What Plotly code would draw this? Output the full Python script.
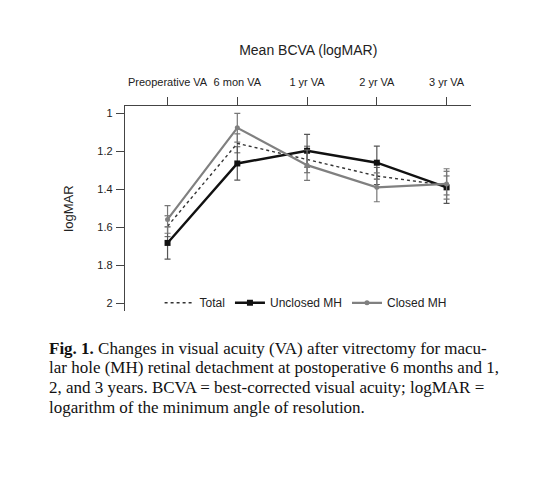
import plotly.graph_objects as go

time_points = ["Preoperative VA", "6 mon VA", "1 yr VA", "2 yr VA", "3 yr VA"]
x_pos = [0, 1, 2, 3, 4]

total_mean = [1.595, 1.158, 1.243, 1.330, 1.380]
total_err = [0.055, 0.05, 0.07, 0.045, 0.05]

unclosed_mean = [1.683, 1.264, 1.197, 1.260, 1.390]
unclosed_err = [0.085, 0.088, 0.086, 0.087, 0.085]

closed_mean = [1.559, 1.076, 1.273, 1.390, 1.372]
closed_err = [0.073, 0.076, 0.080, 0.076, 0.080]

y_ticks = [1, 1.2, 1.4, 1.6, 1.8, 2]

caption_lines = [
    "<b>Fig. 1.</b> Changes in visual acuity (VA) after vitrectomy for macu-",
    "lar hole (MH) retinal detachment at postoperative 6 months and 1,",
    "2, and 3 years. BCVA = best-corrected visual acuity; logMAR =",
    "logarithm of the minimum angle of resolution.",
]

fig = go.Figure()
fig.add_trace(go.Scatter(
    x=x_pos, y=total_mean, name="Total", mode="lines",
    line=dict(color="#333333", width=1.4, dash="dot"),
    error_y=dict(type="data", array=total_err, color="#555555", thickness=1, width=3)
))
fig.add_trace(go.Scatter(
    x=x_pos, y=unclosed_mean, name="Unclosed MH", mode="lines+markers",
    line=dict(color="#111111", width=2.4),
    marker=dict(symbol="square", size=6, color="#111111"),
    error_y=dict(type="data", array=unclosed_err, color="#555555", thickness=1.2, width=3)
))
fig.add_trace(go.Scatter(
    x=x_pos, y=closed_mean, name="Closed MH", mode="lines+markers",
    line=dict(color="#808080", width=2.2),
    marker=dict(symbol="circle", size=5, color="#808080"),
    error_y=dict(type="data", array=closed_err, color="#777777", thickness=1.2, width=3)
))

fig.update_layout(
    width=552, height=480,
    plot_bgcolor="white", paper_bgcolor="white",
    font=dict(family="Liberation Sans, Arial", color="#222222", size=11),
    margin=dict(l=117, r=89, t=98, b=177),
    showlegend=True,
    legend=dict(orientation="h", x=0.1, xanchor="left", y=0.04, yanchor="middle",
                font=dict(size=12), bgcolor="rgba(0,0,0,0)", itemwidth=30,
                tracegroupgap=0),
    title=dict(text="Mean BCVA (logMAR)", x=0.544, xanchor="center",
               y=1 - 42 / 480, yanchor="middle", font=dict(size=14, color="#222222")),
    xaxis=dict(side="top", tickmode="array", tickvals=x_pos, ticktext=time_points,
               range=[-0.61, 4.35], showgrid=False, zeroline=False,
               showline=True, linecolor="#444444", linewidth=1.3,
               ticks="outside", ticklen=8, tickcolor="#444444", tickwidth=1.3,
               ticklabelstandoff=6, tickfont=dict(size=11)),
    yaxis=dict(range=[2.042, 0.961], tickmode="array", tickvals=y_ticks,
               ticktext=["1", "1.2", "1.4", "1.6", "1.8", "2"],
               showgrid=False, zeroline=False,
               showline=True, linecolor="#444444", linewidth=1.3,
               ticks="outside", ticklen=8, tickcolor="#444444", tickwidth=1.3,
               ticklabelstandoff=1,
               title=dict(text="logMAR", font=dict(size=13), standoff=20),
               tickfont=dict(size=11)),
)

# caption lines, one annotation per line (pixel offsets below plot bottom)
for i, line in enumerate(caption_lines):
    fig.add_annotation(
        text=line, xref="paper", yref="paper", x=-0.226,
        y=-(37.3 + 19.6 * i) / 204.7,
        xanchor="left", yanchor="middle", align="left", showarrow=False,
        font=dict(family="Liberation Serif, Times New Roman", size=17, color="#111111")
    )

fig.write_html("out.html")
